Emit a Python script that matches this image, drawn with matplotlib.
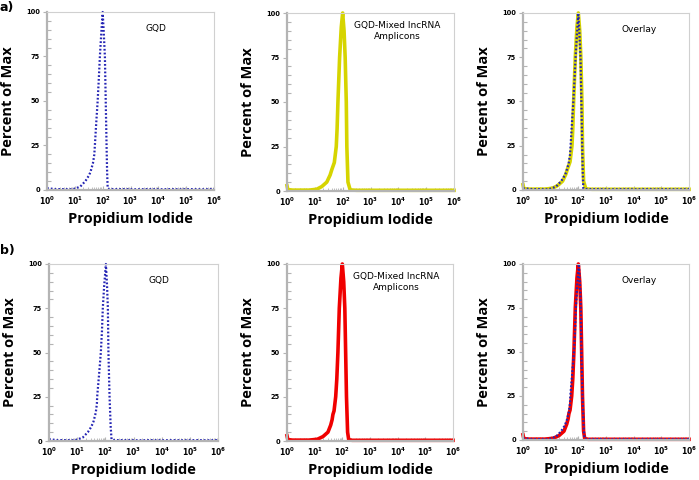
import matplotlib
matplotlib.use("Agg")
import matplotlib.pyplot as plt
import numpy as np
from matplotlib.ticker import FixedLocator, NullFormatter

# ---------------- data (x in decades of Propidium Iodide, y in % of max) ----------------
gqd_a_logx = [0.0, 0.3, 0.6, 0.9, 1.02, 1.2, 1.38, 1.5, 1.56, 1.65, 1.70, 1.72, 1.77, 1.82, 1.86, 1.90, 1.95, 2.0,
              2.04, 2.08, 2.11, 2.14, 2.16, 2.18, 2.22, 2.4, 2.8, 3.2, 3.6, 4.0, 4.4, 4.8, 5.2, 5.6, 6.0]
gqd_a_y = [1.0, 0.5, 0.5, 0.4, 0.8, 2.0, 5.0, 8.0, 10.0, 15.0, 20.0, 25.0, 38.0, 50.0, 62.0, 75.0, 88.0, 100.0,
           88.0, 75.0, 50.0, 25.0, 10.0, 1.0, 0.6, 0.5, 0.5, 0.4, 0.5, 0.4, 0.5, 0.4, 0.5, 0.4, 0.5]

yel_a_logx = [0.0, 0.03, 0.2, 0.5, 0.8, 1.07, 1.25, 1.43, 1.55, 1.61, 1.70, 1.77, 1.80, 1.83, 1.89, 1.95, 2.0,
              2.05, 2.09, 2.13, 2.15, 2.19, 2.27, 2.5, 3.0, 3.5, 4.0, 4.5, 5.0, 5.5, 6.0]
yel_a_y = [3.0, 0.8, 0.5, 0.5, 0.5, 1.0, 2.5, 5.0, 9.0, 12.0, 16.0, 25.0, 35.0, 50.0, 75.0, 92.0, 100.0,
           90.0, 75.0, 50.0, 25.0, 5.0, 0.6, 0.4, 0.4, 0.4, 0.4, 0.4, 0.4, 0.4, 0.4]

gqd_b_logx = [0.0, 0.3, 0.6, 0.9, 1.0, 1.2, 1.38, 1.5, 1.58, 1.66, 1.70, 1.71, 1.78, 1.84, 1.88, 1.91, 1.96, 2.02,
              2.06, 2.09, 2.11, 2.15, 2.19, 2.22, 2.26, 2.4, 2.8, 3.2, 3.6, 4.0, 4.4, 4.8, 5.2, 5.6, 6.0]
gqd_b_y = [1.0, 0.5, 0.5, 0.4, 0.8, 2.0, 5.0, 8.0, 11.0, 16.0, 21.0, 25.0, 38.0, 50.0, 62.0, 75.0, 88.0, 100.0,
           88.0, 75.0, 50.0, 25.0, 8.0, 1.0, 0.6, 0.5, 0.5, 0.4, 0.5, 0.4, 0.5, 0.4, 0.5, 0.4, 0.5]

red_b_logx = [0.0, 0.03, 0.2, 0.5, 0.8, 1.1, 1.3, 1.48, 1.58, 1.63, 1.66, 1.70, 1.76, 1.80, 1.84, 1.89, 1.95, 2.0,
              2.05, 2.09, 2.12, 2.15, 2.19, 2.23, 2.35, 2.6, 3.0, 3.5, 4.0, 4.5, 5.0, 5.5, 6.0]
red_b_y = [3.0, 0.8, 0.5, 0.5, 0.5, 1.0, 2.5, 5.0, 9.0, 12.0, 15.0, 17.0, 25.0, 35.0, 50.0, 75.0, 92.0, 100.0,
           90.0, 75.0, 50.0, 25.0, 5.0, 0.8, 0.4, 0.4, 0.4, 0.4, 0.4, 0.4, 0.4, 0.4, 0.4]

xtick_exps = [0, 1, 2, 3, 4, 5, 6]
ytick_vals = [0, 25, 50, 75, 100]
titles = ["GQD", "GQD-Mixed lncRNA\nAmplicons", "Overlay"]

BLUE = "#2424b4"
YELLOW = "#d6d400"
RED = "#f00000"
GREY = "#b4b4b4"

W, H = 699, 480
fig = plt.figure(figsize=(W / 100, H / 100), dpi=100)

# axes boxes in pixels: (left, top, right, bottom)
boxes = [
    [(47, 12, 214, 190), (287, 13, 454, 191), (523, 13, 689, 190)],
    [(49, 264, 218, 441), (287, 264, 453, 441), (523, 264, 689, 440)],
]
title_pos = [(0.65, 0.93), (0.66, 0.955), (0.70, 0.93)]


def make_ax(box):
    l, t, r, b = box
    ax = fig.add_axes([l / W, 1 - b / H, (r - l) / W, (b - t) / H])
    ax.set_xscale("log")
    ax.set_xlim(1, 1e6)
    ax.set_ylim(0, 100)
    ax.set_xticks([10.0 ** e for e in xtick_exps])
    ax.set_xticklabels([r"$\mathbf{10^{%d}}$" % e for e in xtick_exps], fontsize=5.5)
    ax.xaxis.set_minor_locator(FixedLocator(
        [m * 10.0 ** e for e in range(6) for m in range(2, 10)]))
    ax.xaxis.set_minor_formatter(NullFormatter())
    ax.set_yticks(ytick_vals)
    ax.set_yticklabels([str(v) for v in ytick_vals], fontsize=4.8, fontweight="bold")
    ax.yaxis.set_minor_locator(FixedLocator([v for v in range(0, 101, 5) if v % 25]))
    ax.tick_params(axis="y", which="major", direction="out", length=3, width=0.8,
                   color=GREY, pad=2)
    ax.tick_params(axis="y", which="minor", direction="in", length=3, width=0.8, color=GREY)
    ax.tick_params(axis="x", which="major", direction="in", length=3, width=0.8,
                   color=GREY, pad=3)
    ax.tick_params(axis="x", which="minor", direction="in", length=2.5, width=0.6, color=GREY)
    for s in ["left", "bottom"]:
        ax.spines[s].set_color(GREY)
        ax.spines[s].set_linewidth(1.6)
    for s in ["top", "right"]:
        ax.spines[s].set_color("#d0d0d0")
        ax.spines[s].set_linewidth(0.8)
    ax.set_xlabel("Propidium Iodide", fontsize=10.5, fontweight="bold",
                  family="Open Sans", labelpad=4)
    ax.set_ylabel("Percent of Max", fontsize=10.5, fontweight="bold",
                  family="Open Sans", labelpad=8)
    return ax


rows = [
    (gqd_a_logx, gqd_a_y, yel_a_logx, yel_a_y, YELLOW),
    (gqd_b_logx, gqd_b_y, red_b_logx, red_b_y, RED),
]

for ri, (gx, gy, cx, cy, col) in enumerate(rows):
    gxv = 10.0 ** np.asarray(gx)
    cxv = 10.0 ** np.asarray(cx)
    for ci in range(3):
        ax = make_ax(boxes[ri][ci])
        if ci == 0:
            ax.plot(gxv, gy, color=BLUE, lw=1.6, ls=(0, (0.8, 0.9)), clip_on=False)
        elif ci == 1:
            ax.plot(cxv, cy, color=col, lw=2.6, solid_joinstyle="round", clip_on=False)
        else:
            ax.plot(cxv, cy, color=col, lw=2.6, solid_joinstyle="round", clip_on=False)
            ax.plot(gxv, gy, color=BLUE, lw=1.6, ls=(0, (0.8, 0.9)), clip_on=False)
        tx, ty = title_pos[ci]
        ax.text(tx, ty, titles[ci], transform=ax.transAxes, ha="center", va="top",
                fontsize=6.5, family="DejaVu Sans", linespacing=1.3)

fig.text(0 / W, 1 - 7 / H, "a)", fontsize=9, fontweight="bold", va="center", ha="left")
fig.text(0 / W, 1 - 250 / H, "b)", fontsize=9, fontweight="bold", va="center", ha="left")

fig.savefig("out.png", dpi=100)
